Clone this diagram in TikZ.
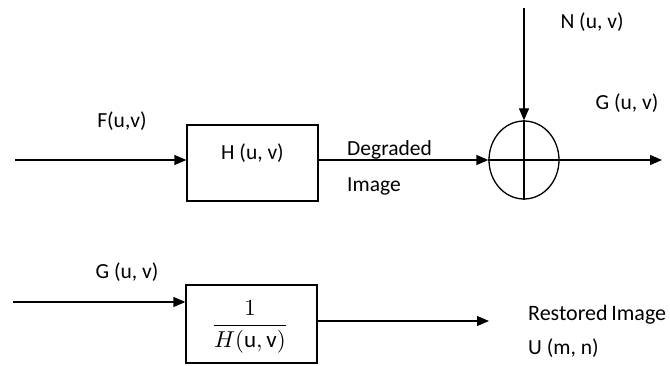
\documentclass[tikz,border=0pt]{standalone}
\usepackage{fontspec}
\setmainfont{Carlito}
\usetikzlibrary{arrows.meta,shapes.geometric}
\begin{document}
\begin{tikzpicture}[x=1pt,y=1pt,
  line/.style={line width=1.3pt},
  arr/.style={line width=1.3pt,-{Triangle[length=12pt,width=10pt]}},
  blk/.style={draw,line width=1.3pt,minimum width=131pt,minimum height=76pt,inner sep=0},
  lbl/.style={font=\fontsize{21.5}{25}\selectfont,inner sep=0}]
\useasboundingbox (0,0) rectangle (670,365);
% top chain
\node[blk] (h) at (252.5,202) {};
\node[lbl] (htext) at (252.5,212) {H (u, v)};
\node[draw,ellipse,line width=1.3pt,minimum width=70pt,minimum height=78pt,inner sep=0] (sum) at (524,205) {};
\coordinate (fin) at (15,205);
\coordinate (nin) at (524,357);
\coordinate (gout) at (662,205);
\draw[arr] (fin) -- (fin -| h.west);
\draw[arr] (fin -| h.east) -- (sum.west);
\draw[arr] (nin) -- (sum.north);
\draw[line] (sum.north) -- (sum.south);
\draw[arr] (sum.west) -- (gout);
\node[lbl] (f) at (122,244) {F(u,v)};
\node[lbl,anchor=west] (deg) at (347,215) {Degraded};
\node[lbl,anchor=west] (img) at (347,179) {Image};
\node[lbl] (n) at (592,343) {N (u, v)};
\node[lbl] (g) at (627,262) {G (u, v)};
% bottom chain
\node[blk,minimum height=78pt,minimum width=131pt] (inv) at (251.5,41) {};
\node[inner sep=0,scale=2.3] (frac) at (250,38) {$\displaystyle\frac{1}{H(\mathrm{u,v})}$};
\coordinate (gin) at (13,63);
\coordinate (rout) at (489,44);
\draw[arr] (gin) -- (gin -| inv.west);
\draw[arr] (rout -| inv.east) -- (rout);
\node[lbl] (g2) at (127,93) {G (u, v)};
\node[lbl,anchor=west,font=\fontsize{22}{26}\selectfont] (rest) at (528,50) {Restored\,Image};
\node[lbl,anchor=west] (u) at (528,17) {U (m, n)};
\end{tikzpicture}
\end{document}
